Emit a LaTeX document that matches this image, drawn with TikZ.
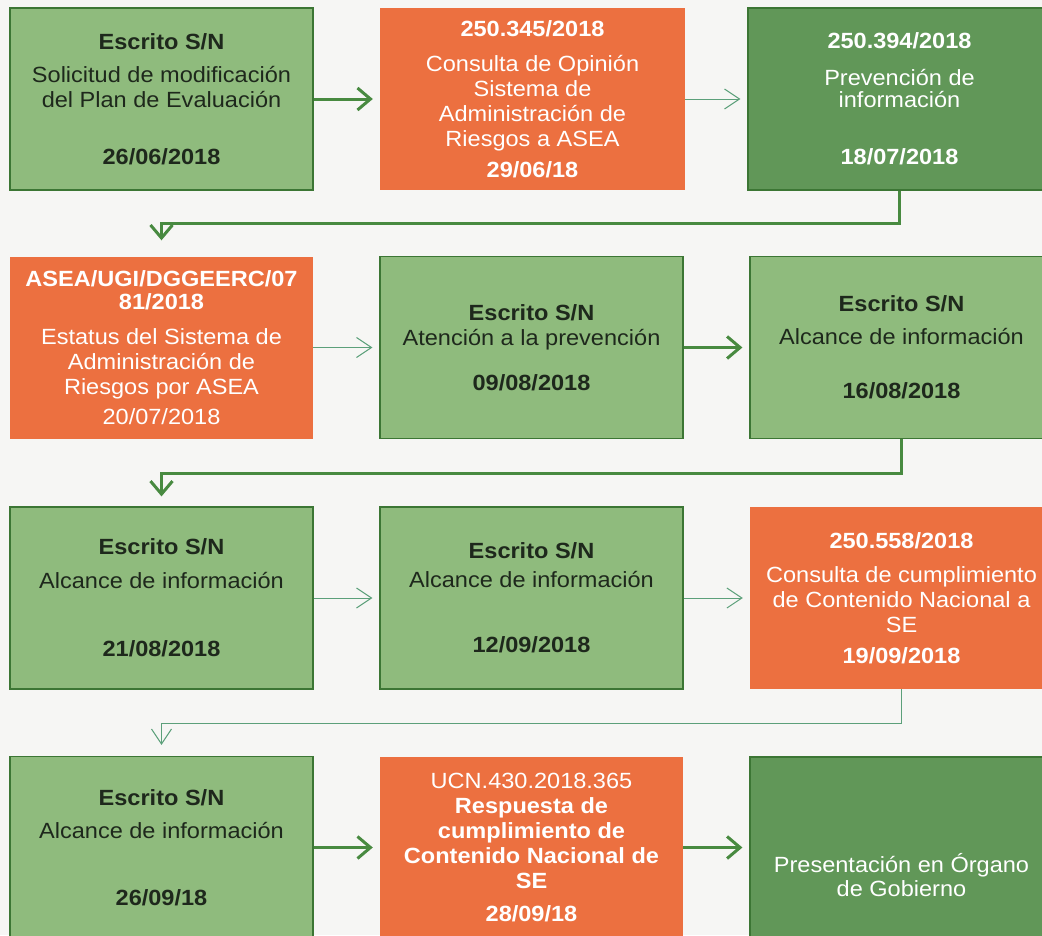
\documentclass[tikz,border=0pt]{standalone}
\usepackage{fontspec}
\setmainfont[FakeStretch=1.07]{Liberation Sans}
\usetikzlibrary{arrows.meta}

\definecolor{fondo}{RGB}{246,246,244}
\definecolor{verdeclaro}{RGB}{143,187,125}
\definecolor{verdeoscuro}{RGB}{97,151,88}
\definecolor{bordeverde}{RGB}{60,118,52}
\definecolor{naranja}{RGB}{236,112,64}
\definecolor{flechaverde}{RGB}{72,138,64}
\definecolor{flechafina}{RGB}{92,160,122}
\definecolor{textooscuro}{RGB}{30,40,28}

\begin{document}
\begin{tikzpicture}[x=1pt, y=-1pt,
    caja/.style={rectangle, minimum width=303pt, minimum height=182pt, inner sep=0pt,
        align=center, font=\fontsize{22}{25}\selectfont},
    claro/.style={caja, fill=verdeclaro, draw=bordeverde, line width=1.2pt, text=textooscuro},
    oscuro/.style={caja, fill=verdeoscuro, draw=bordeverde, line width=1.2pt, text=white},
    nar/.style={caja, fill=naranja, text=white},
    gruesa/.style={draw=flechaverde, line width=3pt, -{Straight Barb[length=13pt,width=22pt]}, shorten >=7pt},
    fina/.style={draw=flechafina, line width=1pt, -{Straight Barb[length=15pt,width=20pt]}, shorten >=7pt}]

        % fondo
        \fill[fondo] (0,0) rectangle (1042,935);
        \useasboundingbox (0,0) rectangle (1042,935);

        % fila 1
        \node[claro] (E1) at (161.5,99) {\textbf{Escrito S/N}\\[8pt]
            Solicitud de modificación\\ del Plan de Evaluación\\[32pt] \textbf{26/06/2018}};
        \node[nar, minimum width=305pt] (C1) at (532.5,99) {\textbf{250.345/2018}\\[10pt]
            Consulta de Opinión\\ Sistema de\\ Administración de\\ Riesgos a ASEA\\[6pt] \textbf{29/06/18}};
        \node[oscuro] (P1) at (899.5,99) {\textbf{250.394/2018}\\[12pt]
            Prevención de\\[-3pt] información\\[32pt] \textbf{18/07/2018}};

        % fila 2
        \node[nar] (A2) at (161.5,347.5) {\textbf{ASEA/UGI/DGGEERC/07}\\[-2pt] \textbf{81/2018}\\[10pt]
            Estatus del Sistema de\\ Administración de\\ Riesgos por ASEA\\[5pt] 20/07/2018};
        \node[claro] (T2) at (531.5,347.5) {\textbf{Escrito S/N}\\
            Atención a la prevención\\[20pt] \textbf{09/08/2018}};
        \node[claro] (L2) at (901.5,347.5) {\textbf{Escrito S/N}\\[8pt]
            Alcance de información\\[29pt] \textbf{16/08/2018}};

        % fila 3
        \node[claro] (L3) at (161.5,598) {\textbf{Escrito S/N}\\[9pt]
            Alcance de información\\[43pt] \textbf{21/08/2018}};
        \node[claro] (M3) at (531.5,598) {\textbf{Escrito S/N}\\[4pt]
            Alcance de información\\[40pt] \textbf{12/09/2018}};
        \node[nar] (C3) at (901.5,598) {\textbf{250.558/2018}\\[9pt]
            Consulta de cumplimiento\\ de Contenido Nacional a\\ SE\\[6pt] \textbf{19/09/2018}};

        % fila 4
        \node[claro] (L4) at (161.5,847.5) {\textbf{Escrito S/N}\\[8pt]
            Alcance de información\\[42pt] \textbf{26/09/18}};
        \node[nar] (R4) at (531.5,847.5) {UCN.430.2018.365\\
            \textbf{Respuesta de}\\ \textbf{cumplimiento de}\\ \textbf{Contenido Nacional de}\\ \textbf{SE}\\[8pt] \textbf{28/09/18}};
        \node[oscuro, minimum height=236pt] (O4) at (901.5,875) {Presentación en Órgano\\[-1pt] de Gobierno};

        % flechas
        \draw[gruesa] (E1.east) -- (C1.west);
        \draw[fina] (C1.east) -- (P1.west);
        \draw[gruesa, shorten >=16pt] (P1.south) -- ++(0,33) -| (A2.north);
        \draw[fina] (A2.east) -- (T2.west);
        \draw[gruesa] (T2.east) -- (L2.west);
        \draw[gruesa, shorten >=10pt] (L2.south) -- ++(0,34) -| (L3.north);
        \draw[fina] (L3.east) -- (M3.west);
        \draw[fina] (M3.east) -- (C3.west);
        \draw[fina, shorten >=11pt] (C3.south) -- ++(0,34) -| (L4.north);
        \draw[gruesa] (L4.east) -- (R4.west);
        \draw[gruesa] (R4.east) -- (R4.east -| O4.west);

    \end{tikzpicture}
\end{document}
